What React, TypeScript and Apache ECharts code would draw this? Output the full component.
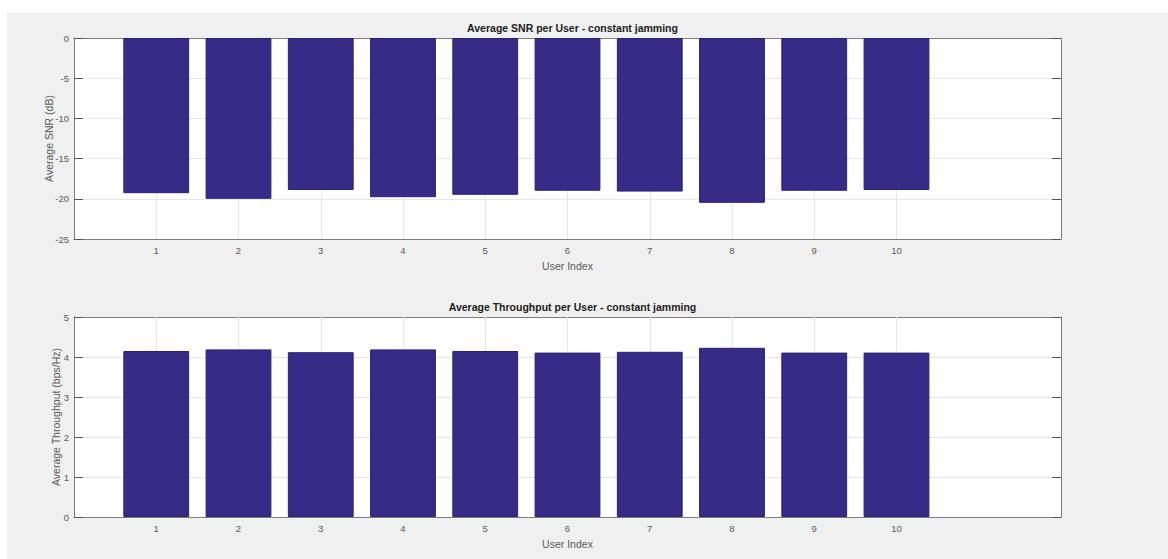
import React, { useEffect, useRef } from "react";
import * as echarts from "echarts";

// ---- data ----
const users = [1, 2, 3, 4, 5, 6, 7, 8, 9, 10];
const xRange = { min: 0, max: 12 }; // MATLAB xlim [0 12]
const snrValues = [-19.3, -20.0, -18.9, -19.8, -19.5, -19.0, -19.1, -20.5, -19.0, -18.9];
const throughputValues = [4.15, 4.19, 4.12, 4.19, 4.15, 4.11, 4.13, 4.23, 4.11, 4.11];
const snrAxis = { min: -25, max: 0, interval: 5 };
const thrAxis = { min: 0, max: 5, interval: 1 };
const titles = [
  "Average SNR per User - constant jamming",
  "Average Throughput per User - constant jamming",
];
const xName = "User Index";
const yNames = ["Average SNR (dB)", "Average Throughput (bps/Hz)"];

const FONT = "'Liberation Sans', Arial, Helvetica, sans-serif";
const AXIS_COLOR = "#7d7d7d";
const GRID_COLOR = "#e6e6e6";
const BAR_COLOR = "#372b87";
const LABEL_COLOR = "#5a5a5a";
const TICK_COLOR = "#555555";

const GRID_LEFT = 74;
const GRID_RIGHT = 107;
const PLOT_W = 1168 - GRID_LEFT - GRID_RIGHT;
const BAR_W = (PLOT_W / (xRange.max - xRange.min)) * 0.8;

function xAxes(gridIndex: number) {
  const base = {
    type: "value",
    gridIndex,
    min: xRange.min,
    max: xRange.max,
    interval: 1,
    axisLine: { show: true, onZero: false, lineStyle: { color: AXIS_COLOR, width: 1 } },
    axisTick: { show: true, inside: true, length: 9, customValues: users, lineStyle: { color: TICK_COLOR } },
    splitLine: { show: false },
  };
  return [
    {
      ...base,
      position: "bottom",
      name: xName,
      nameLocation: "middle",
      nameGap: 21,
      nameTextStyle: { color: LABEL_COLOR, fontFamily: FONT, fontSize: 10.5 },
      axisLabel: {
        customValues: users,
        formatter: (v: number) => String(v),
        color: LABEL_COLOR,
        fontFamily: FONT,
        fontSize: 9.5,
        margin: 6,
      },
    },
    {
      ...base,
      position: "top",
      axisLabel: { show: false },
    },
  ];
}

function yAxes(gridIndex: number, ax: { min: number; max: number; interval: number }, name: string, gap: number) {
  const base = {
    type: "value",
    gridIndex,
    min: ax.min,
    max: ax.max,
    interval: ax.interval,
    axisLine: { show: true, onZero: false, lineStyle: { color: AXIS_COLOR, width: 1 } },
    axisTick: { show: true, inside: true, length: 9, lineStyle: { color: TICK_COLOR } },
  };
  return [
    {
      ...base,
      position: "left",
      name,
      nameLocation: "middle",
      nameGap: gap,
      nameMoveOverlap: false,
      nameTextStyle: { color: LABEL_COLOR, fontFamily: FONT, fontSize: 10.5 },
      axisLabel: { color: LABEL_COLOR, fontFamily: FONT, fontSize: 9.5, margin: 5 },
      splitLine: { show: true, lineStyle: { color: GRID_COLOR, width: 1 } },
    },
    {
      ...base,
      position: "right",
      axisLabel: { show: false },
      splitLine: { show: false },
    },
  ];
}

const gridMarkLine = {
  silent: true,
  z: 1,
  symbol: ["none", "none"],
  label: { show: false },
  lineStyle: { color: GRID_COLOR, type: "solid", width: 1 },
  emphasis: { disabled: true },
  data: users.map((u) => ({ xAxis: u })),
};

export default function App() {
  const ref = useRef<HTMLDivElement>(null);

  useEffect(() => {
    if (!ref.current) return;
    const chart = echarts.init(ref.current, undefined, { renderer: "svg" });
    const plotCenter = GRID_LEFT + PLOT_W / 2;

    const barStyle = {
      color: BAR_COLOR,
      borderColor: "#2a2170",
      borderWidth: 1,
    };

    chart.setOption({
      animation: false,
      backgroundColor: "#f0f0f0",
      textStyle: { fontFamily: FONT },
      graphic: [
        { type: "rect", shape: { x: 0, y: 0, width: 1168, height: 13 }, style: { fill: "#ffffff" }, silent: true },
        { type: "rect", shape: { x: 0, y: 0, width: 7, height: 559 }, style: { fill: "#ffffff" }, silent: true },
      ],
      title: [
        {
          text: titles[0],
          left: plotCenter,
          textAlign: "center",
          top: 17,
          textStyle: { fontFamily: FONT, fontSize: 10.5, fontWeight: "bold", color: "#1e1e1e" },
        },
        {
          text: titles[1],
          left: plotCenter,
          textAlign: "center",
          top: 296,
          textStyle: { fontFamily: FONT, fontSize: 10.5, fontWeight: "bold", color: "#1e1e1e" },
        },
      ],
      grid: [
        { left: GRID_LEFT, right: GRID_RIGHT, top: 38, height: 201, show: true, backgroundColor: "#ffffff", borderWidth: 0 },
        { left: GRID_LEFT, right: GRID_RIGHT, top: 317, height: 200, show: true, backgroundColor: "#ffffff", borderWidth: 0 },
      ],
      xAxis: [...xAxes(0), ...xAxes(1)],
      yAxis: [...yAxes(0, snrAxis, yNames[0], 20), ...yAxes(1, thrAxis, yNames[1], 13)],
      series: [
        {
          type: "bar",
          xAxisIndex: 0,
          yAxisIndex: 0,
          barWidth: BAR_W,
          z: 2,
          itemStyle: barStyle,
          data: users.map((u, i) => [u, snrValues[i]]),
          markLine: gridMarkLine,
        },
        {
          type: "bar",
          xAxisIndex: 2,
          yAxisIndex: 2,
          barWidth: BAR_W,
          z: 2,
          itemStyle: barStyle,
          data: users.map((u, i) => [u, throughputValues[i]]),
          markLine: gridMarkLine,
        },
      ],
    });
    return () => chart.dispose();
  }, []);

  return (
    <div
      ref={ref}
      style={{ position: "absolute", left: 0, top: 0, width: 1168, height: 559 }}
    />
  );
}
